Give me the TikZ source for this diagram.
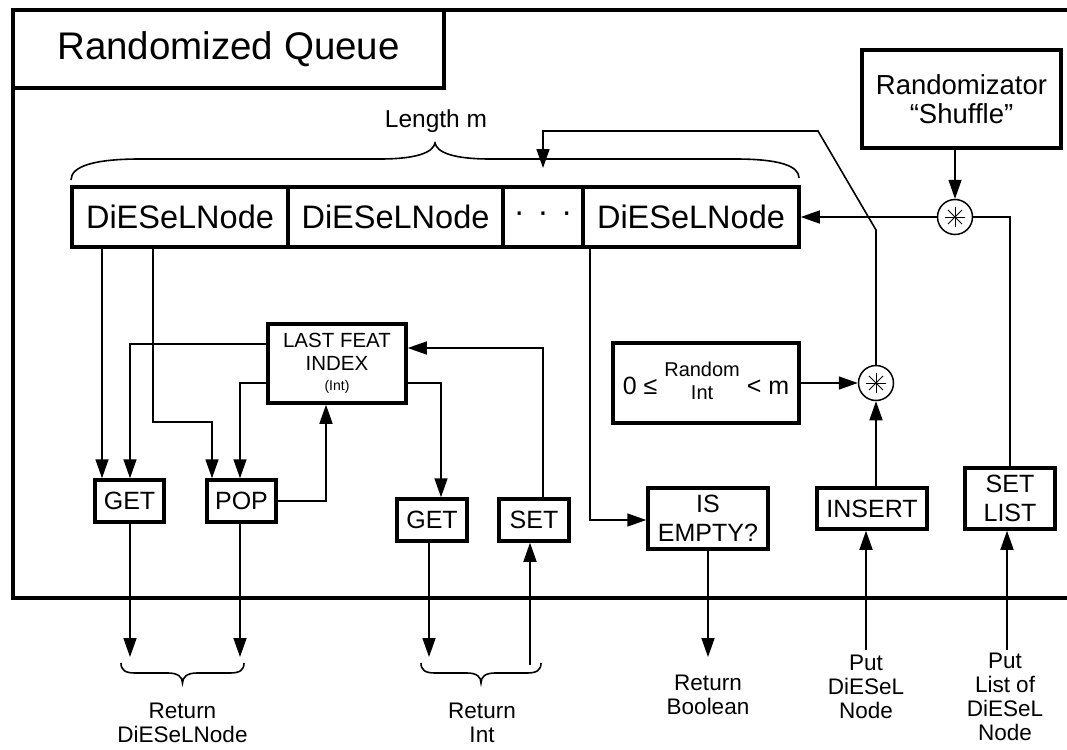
\documentclass[tikz,border=0pt]{standalone}
\usepackage{fontspec}
\setmainfont{Liberation Sans}
\usetikzlibrary{arrows.meta,calc}
\begin{document}
\begin{tikzpicture}[x=1pt,y=-1pt,
  frame/.style={line width=3.5pt, line join=miter},
  box/.style={draw, line width=3.5pt, rectangle, inner sep=0pt, align=center},
  arr/.style={line width=1.6pt, -{Triangle[length=19pt,width=13pt]}},
  conn/.style={line width=1.6pt},
  circ/.style={draw, circle, line width=1.5pt, minimum size=35pt, inner sep=0pt},
  fbig/.style={font=\fontsize{32.5}{36}\selectfont},
  fop/.style={font=\fontsize{25}{28.5}\selectfont},
  flbl/.style={font=\fontsize{22.5}{24}\selectfont, align=center, inner sep=0pt},
]
\useasboundingbox (0,0) rectangle (1067,749);

% outer frame
\draw[frame] (1067,10) -- (13,10) -- (13,598) -- (1067,598);

% title
\node[box, minimum width=431pt, minimum height=78pt, font=\fontsize{38.5}{42}\selectfont] (title) at (228.5,49) {Randomized Queue};

% randomizator
\node[box, minimum width=199pt, minimum height=98pt, font=\fontsize{27.5}{29.5}\selectfont] (rand) at (961.5,99) {Randomizator\\“Shuffle”};

% length label and brace
\node[font=\fontsize{24.5}{27}\selectfont, inner sep=0pt] (lenm) at (436,121) {Length m};
\draw[conn] (71,180) .. controls (71,166) and (95,159) .. (140,159) -- (380,159)
  .. controls (415,159) and (433,153) .. (435,143)
  .. controls (437,153) and (455,159) .. (490,159) -- (735,159)
  .. controls (780,159) and (799,166) .. (799,178);

% DiESeL row
\node[box, fbig, minimum width=216pt, minimum height=60pt] (d1) at (180,217) {DiESeLNode};
\node[box, fbig, minimum width=215pt, minimum height=60pt] (d2) at (395.5,217) {DiESeLNode};
\node[box, fbig, minimum width=80pt, minimum height=60pt] (d3) at (543,217) {·\hspace{13pt}·\hspace{13pt}·};
\node[box, fbig, minimum width=216pt, minimum height=60pt] (d4) at (691,217) {DiESeLNode};

% shuffle circle
\node[circ] (c1) at (955,217) {};
\foreach \a in {0,45,90,135}
  \draw[line width=1pt] ([shift={(\a:10pt)}]c1.center) -- ([shift={(\a+180:10pt)}]c1.center);

% random int box and circle
\node[box, minimum width=186pt, minimum height=80pt, font=\fontsize{25}{28}\selectfont] (rb) at (706,383)
  {0 ≤ \raisebox{6pt}{\fontsize{20}{23}\selectfont\begin{tabular}{@{}c@{}}Random\\Int\end{tabular}} < m};
\node[circ] (c2) at (876,383) {};
\foreach \a in {0,45,90,135}
  \draw[line width=1pt] ([shift={(\a:10pt)}]c2.center) -- ([shift={(\a+180:10pt)}]c2.center);

% operation boxes
\node[box, minimum width=138pt, minimum height=79pt, font=\fontsize{20.5}{23}\selectfont] (lfi) at (337,363.5)
  {LAST FEAT\\INDEX\\[-3pt]{\fontsize{14}{15}\selectfont (Int)}};
\node[box, fop, minimum width=69pt, minimum height=42pt] (g1) at (129.5,501) {GET};
\node[box, fop, minimum width=69pt, minimum height=42pt] (pop) at (241.5,501) {POP};
\node[box, fop, minimum width=70pt, minimum height=42pt] (g2) at (432,520) {GET};
\node[box, fop, minimum width=70pt, minimum height=42pt] (set) at (534,520) {SET};
\node[box, fop, minimum width=120pt, minimum height=61pt] (ie) at (708,518.5) {IS\\EMPTY?};
\node[box, fop, minimum width=110pt, minimum height=41pt] (ins) at (872,508.5) {INSERT};
\node[box, fop, minimum width=90pt, minimum height=61pt] (sl) at (1010,498.5) {SET\\LIST};

% bottom labels
\node[flbl] (rd) at (182.5,723) {Return\\DiESeLNode};
\node[flbl] (ri) at (482,723) {Return\\Int};
\node[flbl] (rbool) at (708,695) {Return\\Boolean};
\node[flbl] (pd) at (866,687) {Put\\DiESeL\\Node};
\node[flbl] (pl) at (1005,697) {Put\\List of\\DiESeL\\Node};

% free-end coordinates
\coordinate (fb) at (543,168);
\coordinate (og1) at (130,657);
\coordinate (opop) at (240,657);
\coordinate (og2) at (429,657);
\coordinate (iset) at (530,665);
\coordinate (oie) at (708,657);
\coordinate (iins) at (866,650);
\coordinate (isl) at (1007,650);

% connectors inside
\draw[arr] (102,0 |- d1.south) -- (102,0 |- g1.north);
\draw[arr] (153,0 |- d1.south) -- (153,422) -- (212,422) -- (212,0 |- pop.north);
\draw[arr] (lfi.west |- 0,344) -- (130,344) -- (130,0 |- g1.north);
\draw[arr] (lfi.west |- 0,383) -- (240,383) -- (240,0 |- pop.north);
\draw[arr] (pop.east) -- (326,0 |- pop.east) -- (326,0 |- lfi.south);
\draw[arr] (lfi.east |- 0,383) -- (441,383) -- (441,0 |- g2.north);
\draw[arr] (543,0 |- set.north) -- (543,348) -- (lfi.east |- 0,348);
\draw[arr] (590,0 |- d4.south) -- (590,520) -- (ie.west |- 0,520);
\draw[arr] (rb.east) -- (c2.west);
\draw[arr] (c2 |- ins.north) -- (c2.south);
\draw[arr] (c2.north) -- (876,230) -- (818,131) -- (543,131) -- (fb);
\draw[arr] (c1 |- rand.south) -- (c1.north);
\draw[arr] (c1.west) -- (d4.east);
\draw[conn] (c1.east) -- (c1.east -| sl.north) -- (sl.north);

% inputs / outputs
\draw[arr] (og1 |- g1.south) -- (og1);
\draw[arr] (opop |- pop.south) -- (opop);
\draw[arr] (og2 |- g2.south) -- (og2);
\draw[arr] (iset) -- (iset |- set.south);
\draw[arr] (ie.south) -- (oie);
\draw[arr] (iins) -- (iins |- ins.south);
\draw[arr] (isl) -- (isl |- sl.south);

% bottom braces
\draw[conn] (121,663) .. controls (121,670) and (125,673) .. (135,673) -- (168,673)
  .. controls (178,673) and (182.5,677) .. (182.5,683)
  .. controls (182.5,677) and (187,673) .. (197,673) -- (230,673)
  .. controls (240,673) and (244,670) .. (244,663);
\draw[conn] (421,663) .. controls (421,670) and (425,673) .. (435,673) -- (467,673)
  .. controls (477,673) and (481,677) .. (481,683)
  .. controls (481,677) and (485,673) .. (495,673) -- (527,673)
  .. controls (537,673) and (541,670) .. (541,663);
\end{tikzpicture}
\end{document}
